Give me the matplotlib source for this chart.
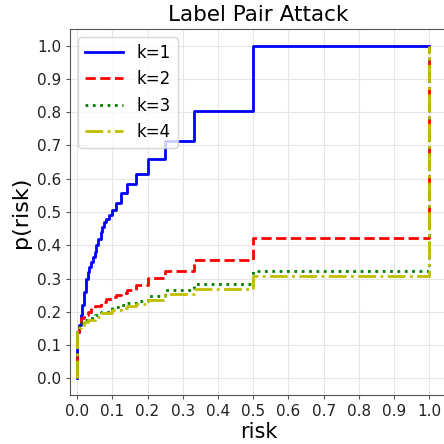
import numpy as np
import matplotlib
matplotlib.use('Agg')
import matplotlib.pyplot as plt

# CDF of risk for each k (step, where='post')
risk_k1 = [0, 0, 0.005, 0.01, 0.015, 0.02, 0.025, 0.03, 0.035, 0.04, 0.045, 0.05,
           0.055, 0.06, 0.067, 0.071, 0.077, 0.083, 0.091, 0.1, 0.111, 0.125,
           0.143, 0.167, 0.2, 0.25, 0.333, 0.5, 1.0]
p_k1 = [0, 0.14, 0.16, 0.19, 0.22, 0.26, 0.30, 0.32, 0.335, 0.35, 0.365, 0.38,
        0.40, 0.42, 0.44, 0.455, 0.47, 0.48, 0.49, 0.505, 0.528, 0.556,
        0.583, 0.613, 0.658, 0.713, 0.805, 1.0, 1.0]

risk_k2 = [0, 0, 0.005, 0.01, 0.02, 0.03, 0.04, 0.05, 0.067, 0.083, 0.1, 0.111,
           0.125, 0.143, 0.167, 0.2, 0.25, 0.333, 0.5, 1.0]
p_k2 = [0, 0.14, 0.165, 0.18, 0.19, 0.2, 0.21, 0.217, 0.23, 0.238, 0.245, 0.252,
        0.258, 0.265, 0.28, 0.303, 0.322, 0.355, 0.423, 1.0]

risk_k3 = [0, 0, 0.005, 0.01, 0.02, 0.03, 0.05, 0.067, 0.1, 0.125, 0.143, 0.167,
           0.2, 0.25, 0.333, 0.5, 1.0]
p_k3 = [0, 0.14, 0.155, 0.165, 0.175, 0.18, 0.19, 0.2, 0.213, 0.22, 0.228, 0.233,
        0.247, 0.265, 0.285, 0.322, 1.0]

risk_k4 = [0, 0, 0.005, 0.01, 0.02, 0.03, 0.05, 0.067, 0.1, 0.125, 0.143, 0.167,
           0.2, 0.25, 0.333, 0.5, 1.0]
p_k4 = [0, 0.14, 0.15, 0.16, 0.168, 0.175, 0.185, 0.195, 0.205, 0.212, 0.218, 0.225,
        0.235, 0.255, 0.268, 0.307, 1.0]

ticks = np.round(np.arange(0, 1.01, 0.1), 1)

fig = plt.figure(figsize=(4.44, 4.44), dpi=100)
ax = fig.add_axes([70/444, 1 - 395/444, 377/444, 366/444])

ax.step(risk_k1, p_k1, 'b-', where='post', lw=2, label='k=1')
ax.step(risk_k2, p_k2, 'r--', where='post', lw=2, label='k=2')
ax.step(risk_k3, p_k3, 'g:', where='post', lw=2, label='k=3')
ax.step(risk_k4, p_k4, 'y-.', where='post', lw=2, label='k=4')

ax.set_xlim(-0.02, 1.05)
ax.set_ylim(-0.05, 1.05)
ax.set_xticks(ticks)
ax.set_yticks(ticks)
ax.tick_params(labelsize=11, colors='#222222', color='#555555', length=3)
ax.grid(True, color='#e6e6e6', lw=0.8)
for s in ['left', 'bottom', 'top']:
    ax.spines[s].set_color('#555555')
ax.spines['right'].set_visible(False)

ax.set_title('Label Pair Attack', fontsize=15.5)
ax.set_xlabel('risk', fontsize=15, labelpad=2)
ax.set_ylabel('p(risk)', fontsize=16)
ax.legend(loc='upper left', fontsize=12, handlelength=2.3)

fig.savefig('out.png', dpi=100)
